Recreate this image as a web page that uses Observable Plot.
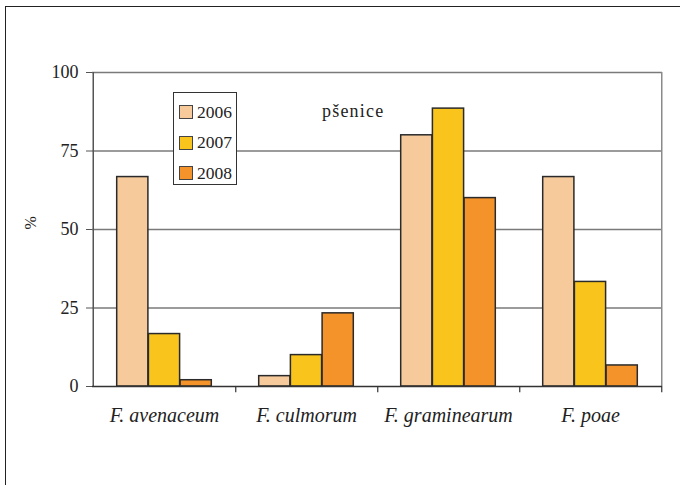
<!DOCTYPE html>
<html>
<head>
<meta charset="utf-8">
<script src="https://cdn.jsdelivr.net/npm/d3@7"></script>
<script src="https://cdn.jsdelivr.net/npm/@observablehq/plot@0.6"></script>
<style>
  html, body { margin: 0; padding: 0; background: #fff; font-family: 'Liberation Serif', serif; }
  #wrap { position: relative; width: 680px; height: 485px; overflow: hidden; font-family: 'Liberation Serif', serif; }
  #border { position: absolute; left: 5px; top: 6px; width: 720px; height: 520px; border: 1.5px solid #222; box-sizing: border-box; pointer-events: none; }
  #chart { position: absolute; left: 0; top: 0; }
  #legend { position: absolute; left: 173px; top: 92px; width: 64px; height: 93px; box-sizing: border-box;
            border: 1px solid #333; background: #fff; padding-top: 4px; }
  #legend .item { display: flex; align-items: center; height: 30.5px; padding-left: 5px; font-size: 17.5px; color: #222; font-family: 'Liberation Serif', serif; }
  #legend .sw { width: 12px; height: 12px; border: 1.2px solid #444; margin-right: 4px; }
  #note { position: absolute; left: 322px; top: 101px; font-size: 18px; letter-spacing: 1.2px; color: #222; font-family: 'Liberation Serif', serif; }
  svg text { font-family: 'Liberation Serif', serif; }
</style>
</head>
<body>
<div id="wrap">
  <div id="chart"></div>
  <div id="legend"></div>
  <div id="note">pšenice</div>
  <div id="border"></div>
</div>
<script>
// Fusarium species found on wheat, share of samples (%) per year
const species = ["F. avenaceum", "F. culmorum", "F. graminearum", "F. poae"];
const years = ["2006", "2007", "2008"];
const values2006 = [66.7, 3.3, 80, 66.7];
const values2007 = [16.7, 10, 88.5, 33.3];
const values2008 = [2, 23.3, 60, 6.7];
const yTicks = [0, 25, 50, 75, 100];
const colors = ["#F7CA9C", "#F9C51D", "#F5932B"];

const series = [values2006, values2007, values2008];
const rows = years.flatMap((year, i) => species.map((s, j) => ({species: s, year, value: series[i][j]})));

const width = 680, height = 485;
const marginLeft = 92, marginRight = 18, marginTop = 72, marginBottom = 99;
const band = (width - marginLeft - marginRight) / species.length;
const barW = 31.7;
const inset = (band - barW) / 2;

const bars = years.map((year, i) =>
  Plot.barY(rows.filter(d => d.year === year), {
    x: "species", y: "value",
    fill: colors[i], stroke: "#2a2a2a", strokeWidth: 1.5,
    insetLeft: inset, insetRight: inset, dx: (i - 1) * barW
  })
);

const plot = Plot.plot({
  width, height, marginLeft, marginRight, marginTop, marginBottom,
  style: {fontFamily: "'Liberation Serif', serif", color: "#222", background: "transparent"},
  x: {domain: species, padding: 0, axis: null},
  y: {domain: [0, 100], axis: null},
  marks: [
    // horizontal gridlines
    Plot.ruleY(yTicks.filter(t => t > 0), {stroke: "#7a7a7a", strokeWidth: 1.5}),
    // right edge of the plot area
    Plot.ruleX([species[species.length - 1]], {dx: band / 2, y1: 0, y2: 100, stroke: "#8a8a8a", strokeWidth: 1.5}),
    ...bars,
    // value axis line
    Plot.ruleX([species[0]], {dx: -band / 2, y1: 0, y2: 100, stroke: "#555", strokeWidth: 1.5}),
    // baseline and category separators
    Plot.ruleY([0], {stroke: "#333", strokeWidth: 1.5}),
    Plot.ruleX(species, {dx: band / 2, y1: 0, y2: -2, stroke: "#333", strokeWidth: 1.2}),
    Plot.axisY({ticks: yTicks, tickSize: 6, tickPadding: 8, fontSize: 18, stroke: "#555", label: null}),
    Plot.axisX({tickSize: 0, tickPadding: 21, fontSize: 20, fontStyle: "italic", label: null}),
    Plot.text(["%"], {frameAnchor: "left", dx: -62, rotate: -90, fontSize: 16})
  ]
});
document.getElementById("chart").appendChild(plot);

// legend
const legend = document.getElementById("legend");
years.forEach((y, i) => {
  const item = document.createElement("div");
  item.className = "item";
  item.innerHTML = `<span class="sw" style="background:${colors[i]}"></span><span>${y}</span>`;
  legend.appendChild(item);
});
</script>
</body>
</html>
